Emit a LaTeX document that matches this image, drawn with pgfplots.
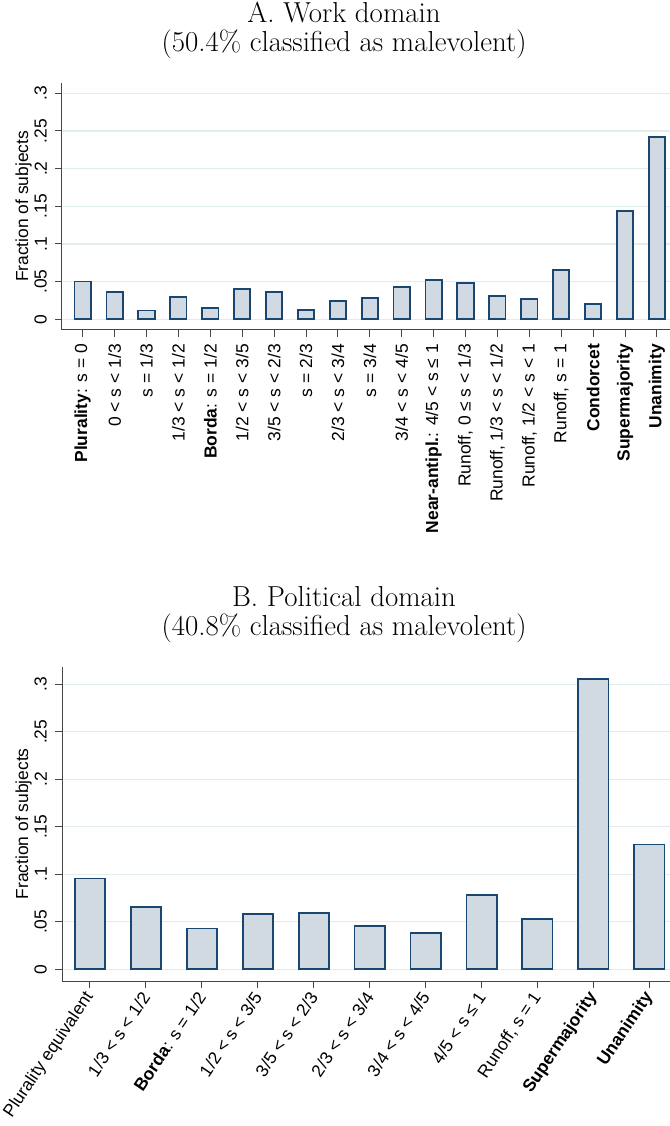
\documentclass[border=0pt]{standalone}
\usepackage{fontspec}
\setsansfont{Liberation Sans}
\usepackage{pgfplots}
\pgfplotsset{compat=1.18}

\definecolor{stnavy}{RGB}{26,71,111}
\definecolor{stfill}{RGB}{209,218,226}
\definecolor{stgrid}{RGB}{226,236,239}
\definecolor{staxis}{RGB}{70,70,70}

\newcommand{\lab}{\fontsize{17.5}{20}\selectfont\sffamily}
\newcommand{\ttl}{\fontsize{29}{33}\selectfont}

\pgfplotsset{
  stata/.style={
    scale only axis,
    width=608bp,
    ybar, bar shift=0pt,
    axis x line*=bottom, axis y line*=left,
    axis line style={staxis, line width=1bp},
    tick align=outside, tick pos=left,
    major tick length=7bp,
    every tick/.style={staxis, line width=1bp},
    ymajorgrids, grid style={stgrid, line width=1.2bp},
    ytick={0,0.05,0.1,0.15,0.2,0.25,0.3},
    yticklabels={0,.05,.1,.15,.2,.25,.3},
    yticklabel style={rotate=90, anchor=south, inner sep=0pt, font=\lab},
    yticklabel shift=8bp,
    ylabel={Fraction of subjects},
    ylabel style={font=\lab, at={(axis description cs:-0.0630,0.5)}, anchor=center},
    xtick=data,
    xticklabel style={font=\lab, inner sep=0pt},
  },
  bars/.style={draw=stnavy, fill=stfill, line width=1.8bp},
}

\pgfplotstableread{
x y
0 0.0503
1 0.0366
2 0.0118
3 0.0295
4 0.0149
5 0.0402
6 0.0366
7 0.0127
8 0.0238
9 0.0286
10 0.0432
11 0.0517
12 0.0477
13 0.0313
14 0.0273
15 0.0654
16 0.0207
17 0.1437
18 0.2415
}\worktable

\pgfplotstableread{
x y
0 0.0955
1 0.0657
2 0.0430
3 0.0580
4 0.0590
5 0.0460
6 0.0380
7 0.0780
8 0.0533
9 0.3053
10 0.1313
}\poltable

\begin{document}
\begin{tikzpicture}
\path[use as bounding box] (0,0) rectangle (670bp,1126bp);

% panel A
\node[anchor=base] at (344bp,1103bp) {\ttl A. Work domain};
\node[anchor=base] at (344bp,1074bp) {\ttl (50.4\% classified as malevolent)};

\begin{axis}[stata,
  at={(62bp,796bp)}, anchor=south west,
  height=247.3bp,
  xmin=-0.649, xmax=18.41,
  ymin=-0.0142, ymax=0.3141,
  bar width=0.51,
  xticklabel style={rotate=90, anchor=east},
  xticklabel shift=7bp,
  xticklabels={{\textbf{Plurality}: s = 0}, {0 < s < 1/3}, {s = 1/3}, {1/3 < s < 1/2},
    {\textbf{Borda}: s = 1/2}, {1/2 < s < 3/5}, {3/5 < s < 2/3}, {s = 2/3},
    {2/3 < s < 3/4}, {s = 3/4}, {3/4 < s < 4/5}, {\textbf{Near-antipl.}: 4/5 < s ≤ 1},
    {Runoff, 0 ≤ s < 1/3}, {Runoff, 1/3 < s < 1/2}, {Runoff, 1/2 < s < 1},
    {Runoff, s = 1}, {\textbf{Condorcet}}, {\textbf{Supermajority}}, {\textbf{Unanimity}}},
]
\addplot[bars] table[x=x, y=y] {\worktable};
\end{axis}

% panel B
\node[anchor=base] at (344bp,519bp) {\ttl B. Political domain};
\node[anchor=base] at (344bp,490bp) {\ttl (40.8\% classified as malevolent)};

\begin{axis}[stata,
  at={(62bp,145bp)}, anchor=south west,
  height=314.3bp,
  xmin=-0.5, xmax=10.37,
  ymin=-0.0123, ymax=0.3185,
  bar width=0.54,
  xticklabel style={rotate=56, anchor=east},
  xticklabel shift=6bp,
  xticklabels={{Plurality equivalent}, {1/3 < s < 1/2}, {\textbf{Borda}: s = 1/2},
    {1/2 < s < 3/5}, {3/5 < s < 2/3}, {2/3 < s < 3/4}, {3/4 < s < 4/5},
    {4/5 < s ≤ 1}, {Runoff, s = 1}, {\textbf{Supermajority}}, {\textbf{Unanimity}}},
]
\addplot[bars] table[x=x, y=y] {\poltable};
\end{axis}
\end{tikzpicture}
\end{document}
